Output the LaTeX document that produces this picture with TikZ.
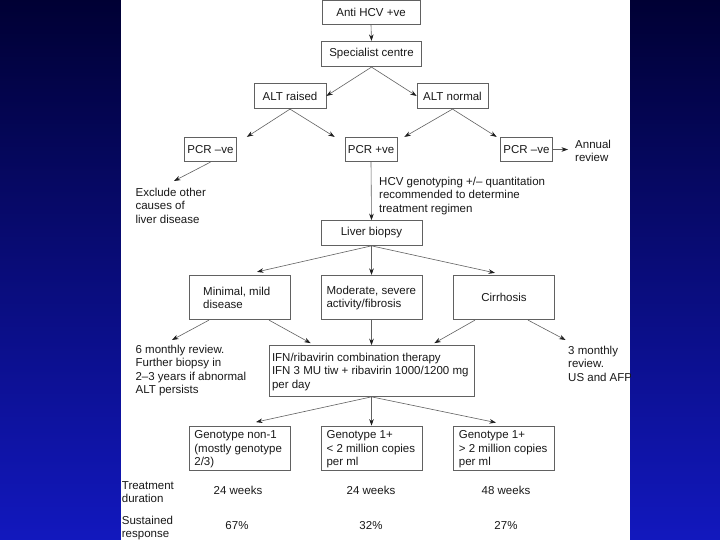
\documentclass[tikz,border=0pt]{standalone}
\usepackage{fontspec}
\setmainfont{Liberation Sans}
\usetikzlibrary{arrows.meta,calc}
\definecolor{bgtop}{RGB}{0,0,52}
\definecolor{bgbot}{RGB}{18,24,190}
\begin{document}
\begin{tikzpicture}[x=1pt,y=-1pt,
  every node/.style={font=\fontsize{11.5}{13.3}\selectfont, text=black!90, inner sep=0pt},
  box/.style={draw=black!62, line width=0.7pt},
  txt/.style={anchor=west, align=left},
  arr/.style={draw=black!62, line width=0.6pt, -{Stealth[length=6.5pt,width=4.6pt,color=black!88]}}]
\useasboundingbox (0,0) rectangle (720,540);
\shade[top color=bgtop, bottom color=bgbot] (0,0) rectangle (720,540);
\fill[white] (121,0) rectangle (630,540);
\begin{scope}
\clip (121,0) rectangle (630,540);
% boxes
\node[box, minimum width=98pt, minimum height=24.5pt] (anti) at (371,12.4) {Anti HCV +ve};
\node[box, minimum width=100pt, minimum height=25.5pt] (spec) at (371.5,54) {Specialist centre};
\node[box, minimum width=72pt, minimum height=25.5pt] (altr) at (290,96) {ALT raised};
\node[box, minimum width=71pt, minimum height=25.5pt] (altn) at (452.5,96) {ALT normal};
\node[box, minimum width=52pt, minimum height=24.5pt] (pcrl) at (210.5,149.5) {PCR –ve};
\node[box, minimum width=52pt, minimum height=24.5pt] (pcrp) at (371,149.5) {PCR +ve};
\node[box, minimum width=52pt, minimum height=24.5pt] (pcrr) at (526.5,149.5) {PCR –ve};
\node[box, minimum width=101pt, minimum height=25pt] (liver) at (371.5,233) {Liver biopsy};
\node[box, minimum width=101pt, minimum height=44.5pt] (minimal) at (240,297.5) {};
\node[box, minimum width=101pt, minimum height=44.5pt] (moderate) at (371.5,297.5) {};
\node[box, minimum width=101pt, minimum height=44.5pt] (cirrhosis) at (504,297.5) {Cirrhosis};
\node[box, minimum width=205pt, minimum height=51pt] (ifn) at (371.5,371) {};
\node[box, minimum width=101pt, minimum height=44.5pt] (g1) at (240,448.2) {};
\node[box, minimum width=101pt, minimum height=44.5pt] (g2) at (371.5,448.2) {};
\node[box, minimum width=101pt, minimum height=44.5pt] (g3) at (504,448.2) {};
% texts inside boxes
\node[txt] (minimalT) at (203,297.9) {Minimal, mild\\disease};
\node[txt] (moderateT) at (326.4,297.9) {Moderate, severe\\activity/fibrosis};
\node[txt] (ifnT) at (271.8,372) {IFN/ribavirin combination therapy\\IFN 3 MU tiw + ribavirin 1000/1200 mg\\per day};
\node[txt] (g1T) at (194.2,449.2) {Genotype non-1\\(mostly genotype\\2/3)};
\node[txt] (g2T) at (326.4,449.2) {Genotype 1+\\< 2 million copies\\per ml};
\node[txt] (g3T) at (458.7,449.2) {Genotype 1+\\> 2 million copies\\per ml};
% free texts
\node[txt] (annual) at (575,150.7) {Annual\\review};
\node[txt] (exclude) at (135.4,205.7) {Exclude other\\causes of\\liver disease};
\node[txt] (hcv) at (379,195.8) {HCV genotyping +/– quantitation\\recommended to determine\\treatment regimen};
\node[txt] (sixm) at (135.4,370.4) {6 monthly review.\\Further biopsy in\\2–3 years if abnormal\\ALT persists};
\node[txt] (threem) at (568,363.7) {3 monthly\\review.\\US and AFP};
\node[txt] (treat) at (121.7,492.2) {Treatment\\duration};
\node[txt] (sust) at (121.7,528.2) {Sustained\\response};
\node (w1) at (238,490.7) {24 weeks};
\node (w2) at (371,490.7) {24 weeks};
\node (w3) at (506,490.7) {48 weeks};
\node (p1) at (237,525.8) {67\%};
\node (p2) at (371,525.8) {32\%};
\node (p3) at (506,525.8) {27\%};
% free arrow ends
\coordinate (annTip) at (568,149.5);
\coordinate (exclTip) at (174,181);
\coordinate (sixTip) at (172,340);
\coordinate (threeTip) at (565.6,340);
% connectors
\draw[arr] (anti.south) -- (spec.north);
\draw[arr] (spec.south) -- (altr.east);
\draw[arr] (spec.south) -- (altn.west);
\draw[arr] (altr.south) -- ($(pcrl.north east)+(10,0)$);
\draw[arr] (altr.south) -- ($(pcrp.north west)+(-10,0)$);
\draw[arr] (altn.south) -- ($(pcrp.north east)+(7,0)$);
\draw[arr] (altn.south) -- ($(pcrr.north west)+(-3.5,0)$);
\draw[arr] (pcrr.east) -- (annTip);
\draw[arr] (pcrl.south) -- (exclTip);
\draw[arr] (pcrp.south) -- (liver.north);
\draw[arr] (liver.south) -- ($(minimal.north)+(17,-3)$);
\draw[arr] (liver.south) -- (moderate.north);
\draw[arr] (liver.south) -- ($(cirrhosis.north)+(-9,-2)$);
\draw[arr] ($(minimal.south)+(-31,0)$) -- (sixTip);
\draw[arr] ($(minimal.south)+(29,0)$) -- ($(ifn.north west)+(42,-2)$);
\draw[arr] (moderate.south) -- (ifn.north);
\draw[arr] ($(cirrhosis.south)+(-29,0)$) -- ($(ifn.north east)+(-40,-2)$);
\draw[arr] ($(cirrhosis.south)+(24,0)$) -- (threeTip);
\draw[arr] (ifn.south) -- ($(g1.north)+(16,-3.5)$);
\draw[arr] (ifn.south) -- (g2.north);
\draw[arr] (ifn.south) -- ($(g3.north)+(-8,-3)$);
\end{scope}
\end{tikzpicture}
\end{document}
